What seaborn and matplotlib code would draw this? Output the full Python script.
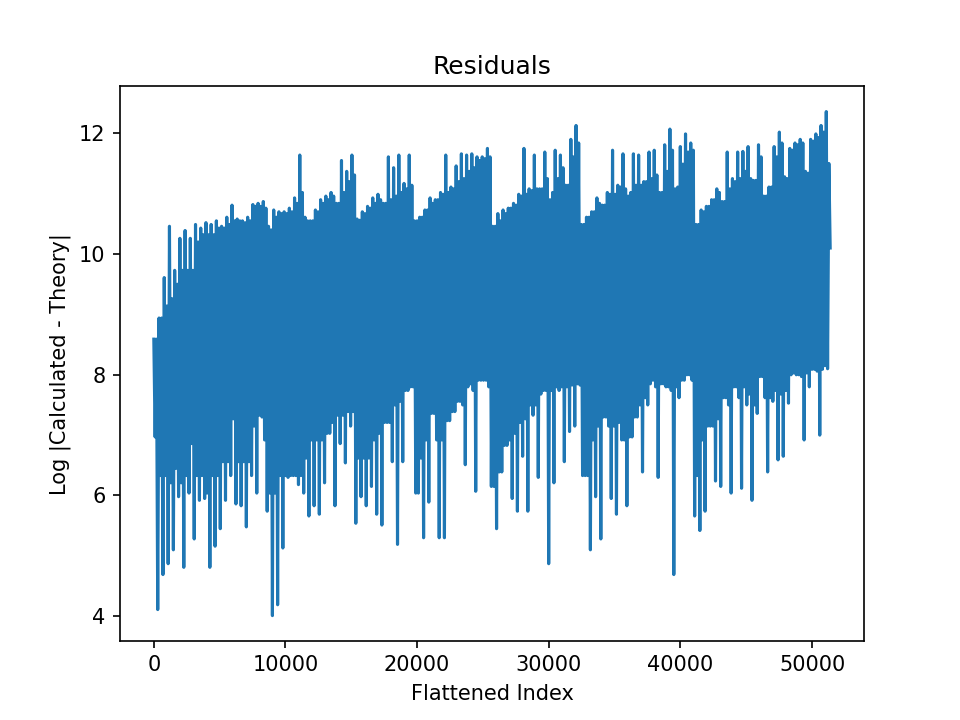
import numpy as np
import matplotlib
matplotlib.use("Agg")
import matplotlib.pyplot as plt
import seaborn as sns

# readings of the residual trace, one set per ~400 indices
# hi / lo : highest and lowest excursion (spikes)
# top / bot : edges of the solid core of the band
hi = [8.59, 8.94, 9.61, 10.46, 9.73, 10.26, 10.39, 10.26, 10.49, 10.43,
      10.52, 10.49, 10.55, 10.46, 10.61, 10.81, 10.58, 10.55, 10.61, 10.82,
      10.84, 10.87, 10.46, 10.73, 10.70, 10.70, 10.76, 10.93, 11.64, 10.61,
      10.55, 10.73, 10.90, 10.96, 11.02, 10.84, 11.55, 11.37, 11.64, 10.58,
      10.70, 10.79, 10.93, 10.99, 10.84, 11.61, 11.43, 11.64, 11.17, 11.64,
      10.55, 10.61, 10.73, 10.93, 10.90, 11.02, 11.64, 11.11, 11.46, 11.66,
      11.64, 11.66, 11.61, 11.61, 11.75, 10.46, 10.67, 10.73, 10.76, 10.84,
      10.99, 11.75, 11.08, 11.64, 11.08, 11.69, 10.90, 11.72, 11.64, 11.14,
      11.90, 12.13, 10.49, 10.61, 10.70, 10.93, 10.81, 11.02, 11.72, 11.14,
      11.66, 10.96, 11.66, 11.64, 11.20, 11.69, 11.72, 11.02, 11.81, 12.07,
      11.08, 11.78, 11.99, 11.84, 10.49, 10.73, 10.79, 10.90, 11.08, 10.87,
      11.69, 11.25, 11.69, 11.70, 11.78, 11.22, 11.81, 10.96, 11.11, 11.78,
      12.02, 11.28, 11.75, 11.84, 11.90, 11.37, 11.90, 11.99, 12.13, 12.36]

bot = [6.97, 6.33, 6.33, 6.21, 6.45, 6.21, 6.33, 6.86, 6.33, 6.33,
       6.04, 6.33, 6.33, 6.56, 6.56, 7.27, 6.56, 6.56, 6.56, 7.15,
       7.33, 6.92, 6.04, 6.04, 6.33, 6.33, 6.33, 6.33, 6.33, 6.62,
       6.92, 6.92, 6.92, 7.03, 7.21, 7.33, 7.33, 7.39, 7.39, 6.62,
       6.62, 6.62, 6.92, 7.03, 7.21, 7.21, 7.50, 7.56, 7.74, 7.80,
       6.04, 6.62, 6.92, 7.36, 6.92, 6.92, 7.24, 7.39, 7.56, 7.50,
       7.80, 7.74, 7.91, 7.91, 7.80, 6.15, 6.39, 6.83, 6.92, 7.03,
       7.21, 7.27, 7.50, 7.50, 7.68, 7.74, 7.74, 7.80, 7.80, 7.80,
       7.83, 7.85, 6.33, 6.33, 6.92, 7.15, 7.30, 7.15, 7.15, 7.21,
       6.92, 6.97, 7.30, 7.50, 7.62, 7.85, 7.80, 7.85, 7.80, 7.74,
       7.80, 7.91, 8.00, 7.91, 6.33, 6.92, 7.15, 7.15, 7.27, 7.62,
       7.50, 7.80, 7.62, 7.80, 7.68, 7.50, 7.97, 7.62, 7.62, 7.74,
       7.68, 7.74, 8.00, 8.00, 7.97, 8.03, 8.09, 8.06, 8.09, 8.10]

top = [8.59, 8.94, 9.14, 9.26, 9.50, 9.73, 9.73, 9.73, 10.20, 10.32,
       10.32, 10.32, 10.43, 10.43, 10.49, 10.55, 10.55, 10.52, 10.55, 10.79,
       10.79, 10.76, 10.40, 10.61, 10.67, 10.67, 10.70, 10.84, 11.02, 10.55,
       10.55, 10.70, 10.84, 10.90, 10.96, 10.84, 11.02, 11.20, 11.31, 10.56,
       10.67, 10.76, 10.84, 10.90, 10.84, 10.90, 10.96, 11.02, 11.08, 11.14,
       10.55, 10.61, 10.73, 10.84, 10.90, 10.99, 11.02, 11.08, 11.20, 11.25,
       11.37, 11.43, 11.55, 11.58, 11.61, 10.46, 10.55, 10.67, 10.76, 10.81,
       10.96, 10.99, 11.05, 11.08, 11.08, 11.25, 11.02, 11.25, 11.43, 11.14,
       11.61, 11.84, 10.49, 10.61, 10.70, 10.84, 10.81, 10.99, 10.99, 11.11,
       11.08, 11.02, 11.14, 11.14, 11.20, 11.25, 11.31, 11.02, 11.37, 11.72,
       11.11, 11.49, 11.69, 11.72, 10.49, 10.70, 10.79, 10.90, 11.02, 10.87,
       11.08, 11.20, 11.25, 11.37, 11.25, 11.22, 11.61, 10.96, 11.11, 11.61,
       11.84, 11.25, 11.72, 11.81, 11.84, 11.34, 11.87, 11.93, 12.02, 11.50]

lo = [4.11, 4.69, 4.87, 5.10, 5.98, 4.81, 6.04, 5.28, 5.92, 5.95,
      4.81, 5.16, 5.45, 5.92, 6.33, 5.86, 5.83, 5.48, 6.33, 6.04,
      7.30, 5.74, 4.01, 4.19, 5.13, 6.30, 6.33, 6.18, 6.04, 5.66,
      5.83, 5.69, 6.21, 7.03, 5.83, 6.86, 6.54, 7.15, 5.54, 5.98,
      5.83, 6.15, 5.69, 5.51, 7.21, 6.56, 5.19, 6.56, 7.74, 7.80,
      6.04, 5.30, 5.89, 7.36, 5.30, 5.30, 7.24, 7.39, 7.56, 6.51,
      7.85, 6.07, 7.91, 7.91, 6.15, 5.45, 6.39, 6.83, 5.95, 5.74,
      6.65, 5.74, 7.33, 6.30, 7.74, 4.87, 6.21, 7.74, 6.56, 7.06,
      7.15, 7.83, 6.33, 5.10, 5.98, 5.28, 7.30, 5.95, 5.69, 6.92,
      5.83, 6.97, 7.30, 6.39, 7.50, 7.91, 6.30, 7.85, 7.80, 4.69,
      7.62, 7.91, 8.00, 5.66, 5.42, 5.74, 7.15, 6.24, 6.15, 7.62,
      6.04, 7.80, 6.12, 7.50, 5.92, 7.36, 7.97, 6.39, 7.56, 6.59,
      6.65, 7.53, 8.03, 8.00, 6.92, 7.80, 8.09, 7.00, 8.15, 10.10]

step = 99  # flattened-index spacing between consecutive points

# walk hi -> bot -> top -> lo for every reading to rebuild the trace
resid = np.column_stack([hi, bot, top, lo]).ravel()
index = np.arange(len(resid)) * step

fig, ax = plt.subplots(figsize=(6.4, 4.8), dpi=150)
sns.lineplot(x=index, y=resid, estimator=None, sort=False,
             color='#1f77b4', linewidth=1.5, ax=ax)

ax.set_title('Residuals')
ax.set_xlabel('Flattened Index')
ax.set_ylabel('Log |Calculated - Theory|')

fig.savefig('out.png', dpi=150)
